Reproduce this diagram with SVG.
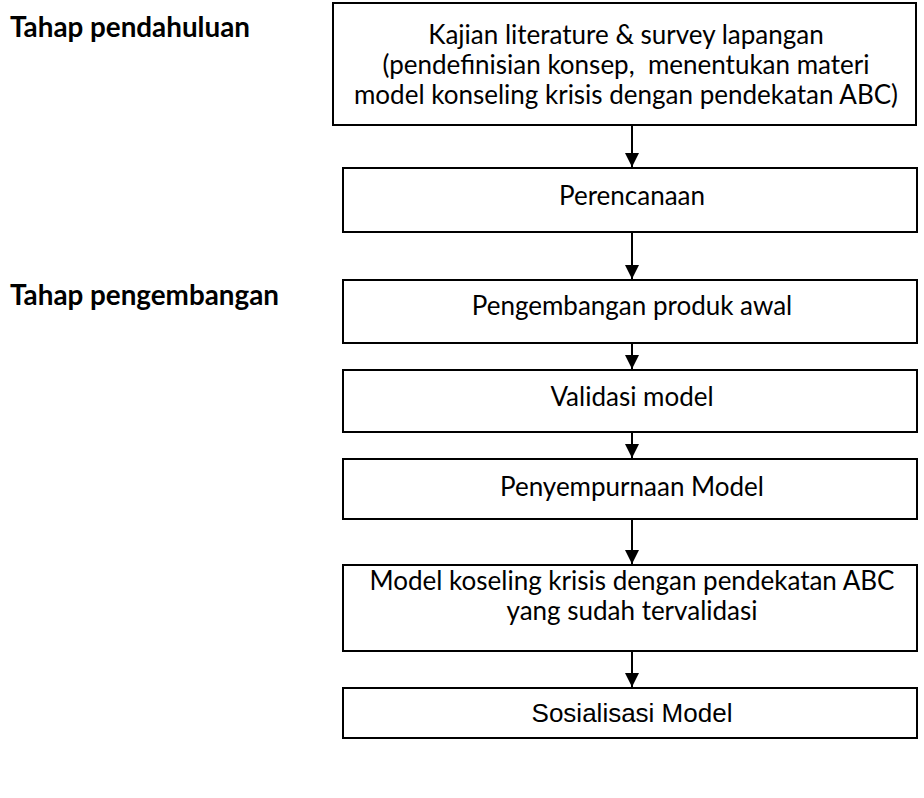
<svg xmlns="http://www.w3.org/2000/svg" width="924" height="798" viewBox="0 0 924 798">
<style>
.box{fill:#fff;stroke:#000;stroke-width:2}
.t{font-family:Lato,"Open Sans",sans-serif;font-size:26px;fill:#000;text-anchor:middle}
.lbl{font-family:Lato,"Open Sans",sans-serif;font-size:27.8px;font-weight:bold;fill:#000}
.a{font-family:"Liberation Sans",Arial,sans-serif;font-size:26px;fill:#000;text-anchor:middle}
.c{stroke:#000;stroke-width:2;fill:none;marker-end:url(#ah)}
</style>
<defs>
<marker id="ah" viewBox="0 0 10 10" refX="10" refY="5" markerWidth="15" markerHeight="14" markerUnits="userSpaceOnUse" orient="auto">
<path d="M0,0 L10,5 L0,10 z" fill="#000"/>
</marker>
</defs>
<rect width="924" height="798" fill="#fff"/>
<g id="label1"><text class="lbl" x="10" y="37">Tahap pendahuluan</text></g>
<g id="label2"><text class="lbl" x="10" y="305">Tahap pengembangan</text></g>
<g id="connectors">
<line class="c" x1="632" y1="125" x2="632" y2="167"/>
<line class="c" x1="632" y1="232" x2="632" y2="279"/>
<line class="c" x1="632" y1="343" x2="632" y2="369"/>
<line class="c" x1="632" y1="432" x2="632" y2="458"/>
<line class="c" x1="632" y1="519" x2="632" y2="564"/>
<line class="c" x1="632" y1="651" x2="632" y2="687"/>
</g>
<g id="n1"><rect class="box" x="333" y="3" width="583" height="122"/>
<text class="t" x="626" y="44">Kajian literature &amp; survey lapangan</text>
<text class="t" x="626" y="74" xml:space="preserve">(pendefinisian konsep,  menentukan materi</text>
<text class="t" x="626" y="104">model konseling krisis dengan pendekatan ABC)</text></g>
<g id="n2"><rect class="box" x="343" y="168" width="574" height="64"/>
<text class="t" x="632" y="205">Perencanaan</text></g>
<g id="n3"><rect class="box" x="343" y="280" width="574" height="63"/>
<text class="t" x="632" y="315">Pengembangan produk awal</text></g>
<g id="n4"><rect class="box" x="343" y="370" width="574" height="62"/>
<text class="t" x="632" y="406">Validasi model</text></g>
<g id="n5"><rect class="box" x="343" y="459" width="574" height="60"/>
<text class="t" x="632" y="496">Penyempurnaan Model</text></g>
<g id="n6"><rect class="box" x="343" y="565" width="574" height="86"/>
<text class="t" x="632" y="590">Model koseling krisis dengan pendekatan ABC</text>
<text class="t" x="632" y="620">yang sudah tervalidasi</text></g>
<g id="n7"><rect class="box" x="343" y="688" width="574" height="50"/>
<text class="a" x="632" y="722">Sosialisasi Model</text></g>
</svg>
